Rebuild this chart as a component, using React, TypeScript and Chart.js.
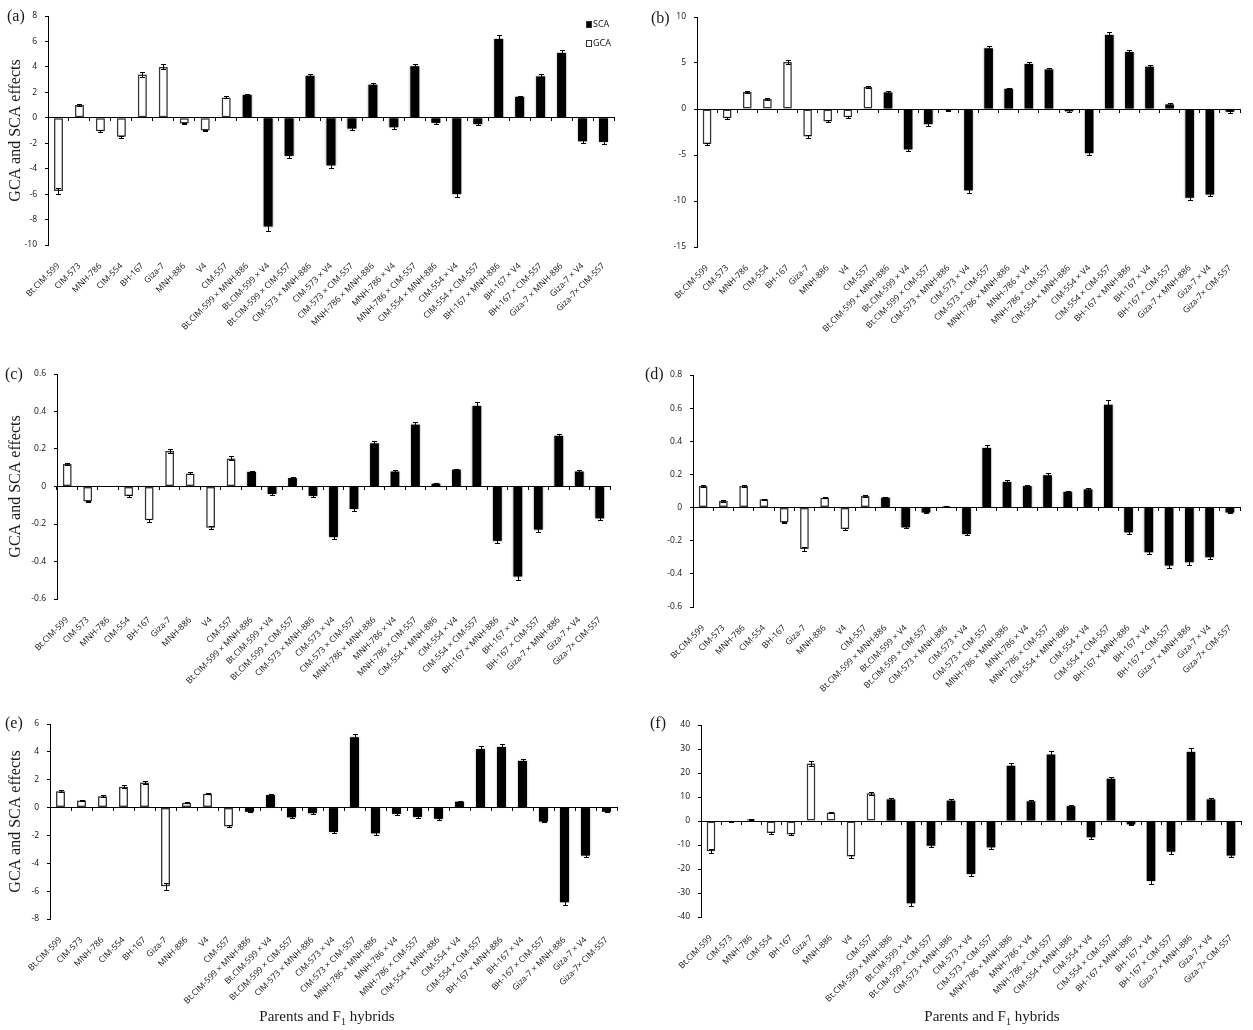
import React, { useEffect, useRef } from 'react';
import { Chart, registerables } from 'chart.js';

Chart.register(...registerables);
Chart.defaults.font.family = "'Open Sans', sans-serif";

// ---- categories ----
const parents = ['Bt.CIM-599', 'CIM-573', 'MNH-786', 'CIM-554', 'BH-167', 'Giza-7', 'MNH-886', 'V4', 'CIM-557'];
const hybrids = [
  'Bt.CIM-599 × MNH-886', 'Bt.CIM-599 × V4', 'Bt.CIM-599 × CIM-557',
  'CIM-573 × MNH-886', 'CIM-573 × V4', 'CIM-573 × CIM-557',
  'MNH-786 × MNH-886', 'MNH-786 × V4', 'MNH-786 × CIM-557',
  'CIM-554 × MNH-886', 'CIM-554 × V4', 'CIM-554 × CIM-557',
  'BH-167 × MNH-886', 'BH-167 × V4', 'BH-167 × CIM-557',
  'Giza-7 × MNH-886', 'Giza-7 × V4', 'Giza-7× CIM-557',
];

// ---- panel (a) ----
const gcaA = [-5.75, 1.0, -1.05, -1.5, 3.4, 4.0, -0.45, -1.0, 1.6];
const gcaErrA = [0.25, 0.08, 0.08, 0.08, 0.18, 0.2, 0.06, 0.06, 0.08];
const scaA = [1.8, -8.55, -3.0, 3.3, -3.75, -0.85, 2.6, -0.75, 4.05, -0.4, -6.0, -0.5, 6.2, 1.65, 3.25, 5.1, -1.85, -1.9];
const scaErrA = [0.1, 0.35, 0.2, 0.18, 0.2, 0.12, 0.12, 0.1, 0.15, 0.1, 0.25, 0.1, 0.3, 0.08, 0.18, 0.2, 0.12, 0.15];
const yTicksA = [-10, -8, -6, -4, -2, 0, 2, 4, 6, 8];

// ---- panel (b) ----
const gcaB = [-3.8, -1.0, 1.85, 1.1, 5.1, -3.0, -1.35, -0.9, 2.4];
const gcaErrB = [0.15, 0.1, 0.1, 0.08, 0.25, 0.15, 0.1, 0.1, 0.1];
const scaB = [1.8, -4.4, -1.65, -0.12, -8.85, 6.6, 2.2, 4.9, 4.3, -0.25, -4.8, 8.05, 6.2, 4.6, 0.5, -9.65, -9.3, -0.3];
const scaErrB = [0.15, 0.15, 0.15, 0.05, 0.25, 0.25, 0.1, 0.25, 0.15, 0.1, 0.15, 0.3, 0.25, 0.15, 0.1, 0.25, 0.2, 0.1];
const yTicksB = [-15, -10, -5, 0, 5, 10];

// ---- panel (c) ----
const gcaC = [0.12, -0.08, 0, -0.05, -0.18, 0.19, 0.07, -0.22, 0.15];
const gcaErrC = [0.007, 0.005, 0, 0.005, 0.007, 0.01, 0.005, 0.008, 0.01];
const scaC = [0.078, -0.04, 0.045, -0.05, -0.27, -0.12, 0.23, 0.08, 0.33, 0.015, 0.09, 0.43, -0.29, -0.48, -0.23, 0.27, 0.08, -0.17];
const scaErrC = [0.007, 0.005, 0.005, 0.007, 0.01, 0.008, 0.012, 0.007, 0.015, 0.004, 0.006, 0.02, 0.01, 0.02, 0.01, 0.012, 0.006, 0.01];
const yTicksC = [-0.6, -0.4, -0.2, 0, 0.2, 0.4, 0.6];

// ---- panel (d) ----
const gcaD = [0.13, 0.04, 0.13, 0.05, -0.09, -0.25, 0.06, -0.13, 0.07];
const gcaErrD = [0.006, 0.004, 0.006, 0.004, 0.005, 0.012, 0.005, 0.005, 0.005];
const scaD = [0.06, -0.12, -0.03, 0.006, -0.16, 0.36, 0.155, 0.13, 0.195, 0.095, 0.11, 0.62, -0.15, -0.27, -0.35, -0.33, -0.3, -0.03];
const scaErrD = [0.006, 0.006, 0.005, 0.002, 0.008, 0.015, 0.01, 0.008, 0.012, 0.006, 0.006, 0.03, 0.008, 0.01, 0.015, 0.015, 0.01, 0.005];
const yTicksD = [-0.6, -0.4, -0.2, 0, 0.2, 0.4, 0.6, 0.8];

// ---- panel (e) ----
const gcaE = [1.17, 0.5, 0.82, 1.5, 1.8, -5.65, 0.35, 1.0, -1.35];
const gcaErrE = [0.08, 0.06, 0.06, 0.1, 0.12, 0.25, 0.05, 0.06, 0.08];
const scaE = [-0.3, 0.9, -0.7, -0.4, -1.75, 5.05, -1.85, -0.45, -0.67, -0.8, 0.42, 4.2, 4.35, 3.35, -1.0, -6.8, -3.45, -0.3];
const scaErrE = [0.05, 0.08, 0.08, 0.06, 0.1, 0.2, 0.1, 0.06, 0.06, 0.07, 0.06, 0.2, 0.2, 0.15, 0.07, 0.2, 0.12, 0.05];
const yTicksE = [-8, -6, -4, -2, 0, 2, 4, 6];

// ---- panel (f) ----
const gcaF = [-12.6, -0.4, 0.7, -5.0, -5.6, 24, 3.5, -14.8, 11.6];
const gcaErrF = [0.8, 0.2, 0.2, 0.3, 0.4, 1.0, 0.2, 0.8, 0.6];
const scaF = [9, -34.3, -10.3, 8.5, -22.1, -11, 23, 8.2, 27.7, 6.2, -6.8, 17.6, -1.4, -25, -12.8, 28.8, 9.0, -14.4];
const scaErrF = [0.6, 1.2, 0.7, 0.6, 0.8, 0.8, 1.3, 0.5, 1.3, 0.4, 0.5, 0.8, 0.3, 1.2, 0.8, 1.5, 0.5, 0.7];
const yTicksF = [-40, -30, -20, -10, 0, 10, 20, 30, 40];

const yTitle = 'GCA and SCA effects';

type Panel = {
  id: string;
  gca: number[]; gcaErr: number[]; sca: number[]; scaErr: number[]; yTicks: number[];
  canvas: { left: number; top: number; w: number; h: number };
  area: { l: number; t: number; r: number; b: number };
  showTitle: boolean; showLegend: boolean;
};

const panels: Panel[] = [
  { id: 'a', gca: gcaA, gcaErr: gcaErrA, sca: scaA, scaErr: scaErrA, yTicks: yTicksA,
    canvas: { left: 0, top: 0, w: 625, h: 350 }, area: { l: 48, t: 16, r: 614, b: 245 }, showTitle: true, showLegend: true },
  { id: 'b', gca: gcaB, gcaErr: gcaErrB, sca: scaB, scaErr: scaErrB, yTicks: yTicksB,
    canvas: { left: 630, top: 0, w: 623, h: 350 }, area: { l: 697, t: 17, r: 1240, b: 247 }, showTitle: false, showLegend: false },
  { id: 'c', gca: gcaC, gcaErr: gcaErrC, sca: scaC, scaErr: scaErrC, yTicks: yTicksC,
    canvas: { left: 0, top: 355, w: 625, h: 350 }, area: { l: 57, t: 374, r: 610, b: 599 }, showTitle: true, showLegend: false },
  { id: 'd', gca: gcaD, gcaErr: gcaErrD, sca: scaD, scaErr: scaErrD, yTicks: yTicksD,
    canvas: { left: 630, top: 355, w: 623, h: 350 }, area: { l: 693, t: 375, r: 1240, b: 607 }, showTitle: false, showLegend: false },
  { id: 'e', gca: gcaE, gcaErr: gcaErrE, sca: scaE, scaErr: scaErrE, yTicks: yTicksE,
    canvas: { left: 0, top: 710, w: 625, h: 320 }, area: { l: 50, t: 724, r: 617, b: 919 }, showTitle: true, showLegend: false },
  { id: 'f', gca: gcaF, gcaErr: gcaErrF, sca: scaF, scaErr: scaErrF, yTicks: yTicksF,
    canvas: { left: 630, top: 710, w: 623, h: 320 }, area: { l: 701, t: 725, r: 1241, b: 917 }, showTitle: false, showLegend: false },
];

const letters = [
  { t: '(a)', x: 7, y: 8 },
  { t: '(b)', x: 651, y: 10 },
  { t: '(c)', x: 5, y: 366 },
  { t: '(d)', x: 645, y: 366 },
  { t: '(e)', x: 5, y: 715 },
  { t: '(f)', x: 650, y: 715 },
];

const errorBarPlugin = {
  id: 'errorBars',
  beforeDatasetsDraw(chart: any) {
    const ctx = chart.ctx;
    ctx.save();
    ctx.shadowColor = 'rgba(0,0,0,0.35)';
    ctx.shadowBlur = 2;
  },
  afterDatasetsDraw(chart: any) {
    const ctx = chart.ctx;
    ctx.restore();
    const ys = chart.scales.y;
    ctx.save();
    ctx.strokeStyle = '#000';
    ctx.lineWidth = 1;
    chart.data.datasets.forEach((ds: any, di: number) => {
      const meta = chart.getDatasetMeta(di);
      meta.data.forEach((bar: any, i: number) => {
        const v = ds.data[i].y;
        const e = ds.errors[i];
        if (!e) return;
        const x = Math.round(bar.x) + 0.5;
        const y1 = Math.round(ys.getPixelForValue(v - e)) + 0.5;
        const y2 = Math.round(ys.getPixelForValue(v + e)) + 0.5;
        ctx.beginPath();
        ctx.moveTo(x, y1); ctx.lineTo(x, y2);
        ctx.moveTo(x - 2.5, y1); ctx.lineTo(x + 2.5, y1);
        ctx.moveTo(x - 2.5, y2); ctx.lineTo(x + 2.5, y2);
        ctx.stroke();
      });
    });
    ctx.restore();
  },
};

const insideLegendPlugin = {
  id: 'insideLegend',
  afterDraw(chart: any, _args: any, opts: any) {
    if (!opts || !opts.display) return;
    const ctx = chart.ctx;
    ctx.save();
    ctx.font = "9px 'Open Sans', sans-serif";
    ctx.textBaseline = 'middle';
    opts.order.forEach((di: number, k: number) => {
      const ds = chart.data.datasets[di];
      const y = opts.y + k * opts.gap;
      ctx.fillStyle = ds.backgroundColor;
      ctx.fillRect(opts.x, y - 3, 5, 6);
      ctx.strokeStyle = '#333';
      ctx.lineWidth = 1;
      ctx.strokeRect(opts.x + 0.5, y - 2.5, 5, 6);
      ctx.fillStyle = '#111';
      ctx.fillText(ds.label, opts.x + 7, y + 0.5);
    });
    ctx.restore();
  },
};

function makeConfig(p: Panel): any {
  const labels = [...parents, ...hybrids];
  const yW = p.area.l - p.canvas.left;
  const xH = p.canvas.top + p.canvas.h - p.area.b;
  const tickFont = { family: "'Open Sans', sans-serif", size: 8.5 };
  return {
    type: 'bar',
    data: {
      labels,
      datasets: [
        {
          label: 'SCA',
          data: hybrids.map((h, i) => ({ x: h, y: p.sca[i] })),
          errors: p.scaErr,
          backgroundColor: '#000',
          borderColor: '#000',
          borderWidth: 0,
          grouped: false,
          barPercentage: 0.43,
          categoryPercentage: 1,
          xAxisID: 'x',
          yAxisID: 'y',
        },
        {
          label: 'GCA',
          data: parents.map((h, i) => ({ x: h, y: p.gca[i] })),
          errors: p.gcaErr,
          backgroundColor: '#fff',
          borderColor: '#3a3a3a',
          borderWidth: 1.5,
          borderSkipped: false,
          grouped: false,
          barPercentage: 0.43,
          categoryPercentage: 1,
          xAxisID: 'x',
          yAxisID: 'y',
        },
      ],
    },
    options: {
      animation: false,
      responsive: false,
      maintainAspectRatio: false,
      events: [],
      layout: {
        padding: {
          left: 0,
          top: p.area.t - p.canvas.top,
          right: p.canvas.left + p.canvas.w - p.area.r,
          bottom: 0,
        },
      },
      plugins: {
        legend: { display: false },
        tooltip: { enabled: false },
        insideLegend: { display: p.showLegend, x: 586, y: 24, gap: 19, order: [0, 1] },
      },
      scales: {
        x: {
          type: 'category',
          position: 'bottom',
          offset: true,
          grid: { display: false },
          border: { display: false },
          ticks: {
            autoSkip: false,
            minRotation: 45,
            maxRotation: 45,
            padding: 8,
            font: tickFont,
            color: '#111',
          },
          afterFit: (s: any) => { s.height = xH; },
        },
        x2: {
          type: 'category',
          axis: 'x',
          position: { y: 0 },
          offset: true,
          grid: { offset: true, drawOnChartArea: false, drawTicks: true, tickLength: 3, color: '#000', lineWidth: 1 },
          border: { display: true, color: '#000', width: 1 },
          ticks: { display: false },
        },
        y: {
          type: 'linear',
          min: p.yTicks[0],
          max: p.yTicks[p.yTicks.length - 1],
          afterBuildTicks: (s: any) => { s.ticks = p.yTicks.map((value) => ({ value })); },
          ticks: { font: tickFont, color: '#111', padding: 8 },
          grid: { drawOnChartArea: false, drawTicks: true, tickLength: 3, color: '#000' },
          border: { display: true, color: '#000', width: 1 },
          title: {
            display: p.showTitle,
            text: yTitle,
            font: { family: "'Liberation Serif', 'Times New Roman', serif", size: 16 },
            color: '#1a1a1a',
            padding: { top: 6, bottom: 0 },
          },
          afterFit: (s: any) => { s.width = yW; },
        },
      },
    },
    plugins: [errorBarPlugin, insideLegendPlugin],
  };
}

function PanelChart({ p }: { p: Panel }) {
  const ref = useRef<HTMLCanvasElement | null>(null);
  useEffect(() => {
    if (!ref.current) return;
    const chart = new Chart(ref.current, makeConfig(p));
    return () => chart.destroy();
  }, [p]);
  return (
    <canvas
      ref={ref}
      width={p.canvas.w}
      height={p.canvas.h}
      style={{ position: 'absolute', left: p.canvas.left, top: p.canvas.top, width: p.canvas.w, height: p.canvas.h }}
    />
  );
}

const serif = "'Liberation Serif', 'Times New Roman', serif";

export default function App() {
  return (
    <div style={{ position: 'absolute', left: 0, top: 0, width: 1253, height: 1030, background: '#fff', overflow: 'hidden' }}>
      {panels.map((p) => <PanelChart key={p.id} p={p} />)}
      {letters.map((l) => (
        <div key={l.t} style={{ position: 'absolute', left: l.x, top: l.y, fontFamily: serif, fontSize: 16, lineHeight: '16px', color: '#1a1a1a', zIndex: 2 }}>
          {l.t}
        </div>
      ))}
      {[327, 992].map((cx) => (
        <div key={cx} style={{ position: 'absolute', left: cx, top: 1009, transform: 'translateX(-50%)', whiteSpace: 'nowrap', fontFamily: serif, fontSize: 15, lineHeight: '15px', color: '#1a1a1a', zIndex: 2 }}>
          Parents and F<sub style={{ fontSize: 10, lineHeight: 0 }}>1</sub> hybrids
        </div>
      ))}
    </div>
  );
}
